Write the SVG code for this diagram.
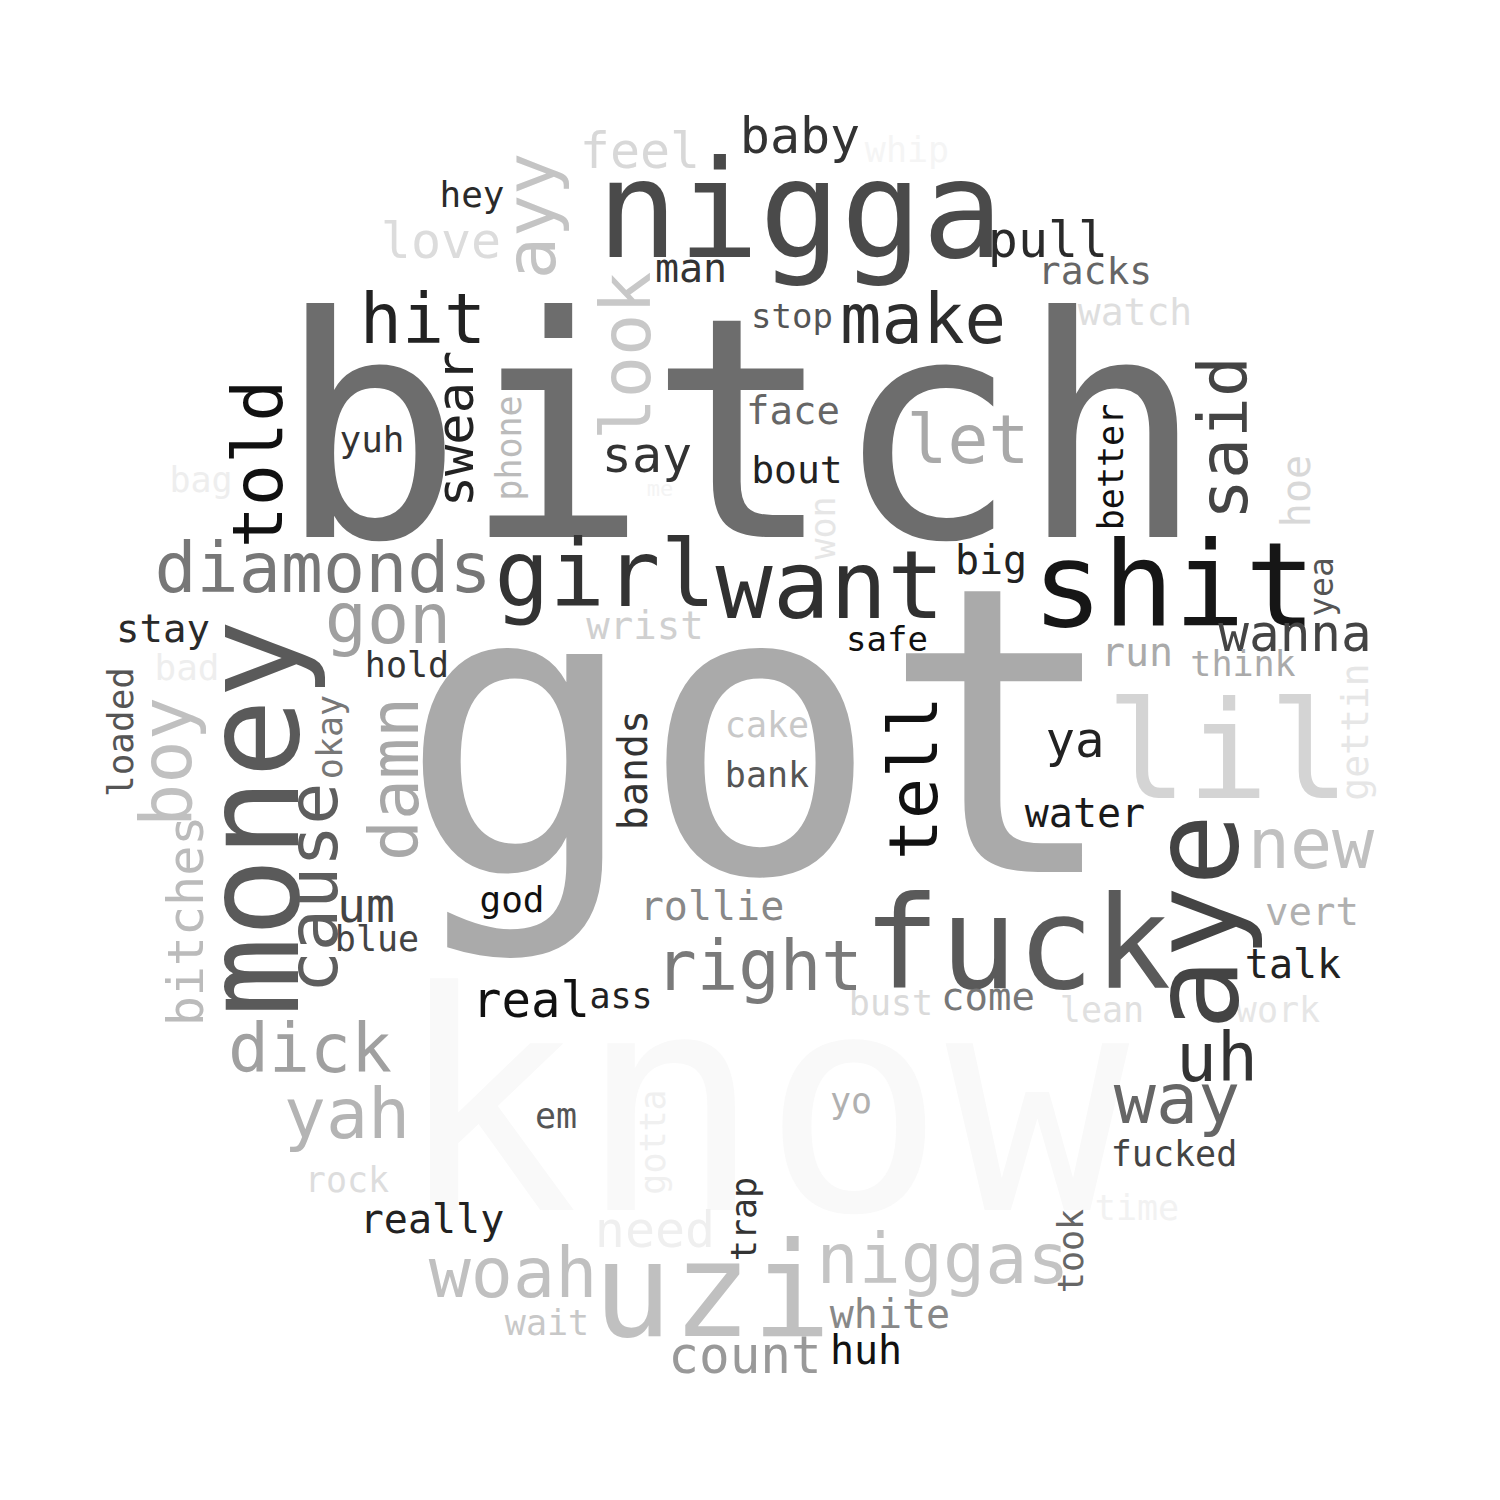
<svg xmlns="http://www.w3.org/2000/svg" width="1500" height="1500" viewBox="0 0 1500 1500">
<style>
text{font-family:"DejaVu Sans Mono","Liberation Mono",monospace;text-anchor:middle}
</style>
<rect width="1500" height="1500" fill="#ffffff"/>
<g id="words">
<text x="1228" y="798" font-size="135" fill="#d4d4d4">lil</text>
<text x="762" y="1210" font-size="305" fill="#f9f9f9">know</text>
<text x="741" y="537" font-size="308" fill="#6d6d6d">bitch</text>
<text x="760" y="872" font-size="400" fill="#aaaaaa">got</text>
<text x="800" y="257" font-size="135" fill="#4a4a4a">nigga</text>
<text x="1174" y="626" font-size="118" fill="#161616">shit</text>
<text x="1017" y="988" font-size="128" fill="#5a5a5a">fuck</text>
<text x="605" y="606" font-size="92" fill="#333333">girl</text>
<text x="830" y="618" font-size="95" fill="#303030">want</text>
<text x="423" y="343" font-size="70" fill="#222222">hit</text>
<text x="923" y="343" font-size="69" fill="#2d2d2d">make</text>
<text x="1048" y="257" font-size="50" fill="#2a2a2a">pull</text>
<text x="800" y="153" font-size="50" fill="#333333">baby</text>
<text x="640" y="168" font-size="50" fill="#d8d8d8">feel</text>
<text x="907" y="162" font-size="35" fill="#f5f5f5">whip</text>
<text x="472" y="207" font-size="36" fill="#2a2a2a">hey</text>
<text x="441" y="258" font-size="50" fill="#dcdcdc">love</text>
<text x="691" y="282" font-size="40" fill="#333333">man</text>
<text x="1095" y="284" font-size="38" fill="#666666">racks</text>
<text x="1135" y="325" font-size="38" fill="#dedede">watch</text>
<text x="792" y="328" font-size="34" fill="#555555">stop</text>
<text x="793" y="424" font-size="39" fill="#666666">face</text>
<text x="968" y="463" font-size="68" fill="#a9a9a9">let</text>
<text x="647" y="472" font-size="50" fill="#333333">say</text>
<text x="660" y="496" font-size="22" fill="#f4f4f4">me</text>
<text x="797" y="483" font-size="38" fill="#222222">bout</text>
<text x="372" y="452" font-size="36" fill="#333333">yuh</text>
<text x="201" y="492" font-size="35" fill="#eeeeee">bag</text>
<text x="323" y="592" font-size="70" fill="#777777">diamonds</text>
<text x="388" y="643" font-size="70" fill="#a0a0a0">gon</text>
<text x="163" y="642" font-size="39" fill="#2a2a2a">stay</text>
<text x="187" y="680" font-size="36" fill="#eeeeee">bad</text>
<text x="407" y="677" font-size="35" fill="#333333">hold</text>
<text x="645" y="639" font-size="39" fill="#d0d0d0">wrist</text>
<text x="991" y="574" font-size="40" fill="#222222">big</text>
<text x="887" y="651" font-size="34" fill="#111111">safe</text>
<text x="1295" y="651" font-size="51" fill="#444444">wanna</text>
<text x="1137" y="666" font-size="40" fill="#aaaaaa">run</text>
<text x="1243" y="676" font-size="35" fill="#aaaaaa">think</text>
<text x="767" y="737" font-size="35" fill="#c8c8c8">cake</text>
<text x="767" y="787" font-size="35" fill="#555555">bank</text>
<text x="1075" y="757" font-size="49" fill="#222222">ya</text>
<text x="1085" y="827" font-size="40" fill="#1a1a1a">water</text>
<text x="1311" y="868" font-size="70" fill="#c0c0c0">new</text>
<text x="1312" y="925" font-size="39" fill="#b0b0b0">vert</text>
<text x="1293" y="978" font-size="40" fill="#222222">talk</text>
<text x="1278" y="1022" font-size="35" fill="#e6e6e6">work</text>
<text x="1102" y="1022" font-size="35" fill="#e0e0e0">lean</text>
<text x="988" y="1010" font-size="39" fill="#777777">come</text>
<text x="891" y="1015" font-size="35" fill="#dadada">bust</text>
<text x="759" y="990" font-size="69" fill="#7a7a7a">right</text>
<text x="712" y="920" font-size="40" fill="#888888">rollie</text>
<text x="512" y="912" font-size="36" fill="#111111">god</text>
<text x="366" y="922" font-size="48" fill="#444444">um</text>
<text x="377" y="951" font-size="35" fill="#444444">blue</text>
<text x="531" y="1017" font-size="49" fill="#111111">real</text>
<text x="621" y="1008" font-size="35" fill="#222222">ass</text>
<text x="310" y="1072" font-size="68" fill="#a0a0a0">dick</text>
<text x="347" y="1138" font-size="70" fill="#b4b4b4">yah</text>
<text x="556" y="1128" font-size="35" fill="#555555">em</text>
<text x="347" y="1192" font-size="35" fill="#dddddd">rock</text>
<text x="432" y="1233" font-size="40" fill="#222222">really</text>
<text x="655" y="1247" font-size="50" fill="#efefef">need</text>
<text x="513" y="1297" font-size="70" fill="#c0c0c0">woah</text>
<text x="712" y="1336" font-size="132" fill="#c0c0c0">uzi</text>
<text x="547" y="1335" font-size="35" fill="#c8c8c8">wait</text>
<text x="745" y="1373" font-size="51" fill="#999999">count</text>
<text x="943" y="1283" font-size="70" fill="#c4c4c4">niggas</text>
<text x="890" y="1328" font-size="40" fill="#888888">white</text>
<text x="866" y="1364" font-size="40" fill="#111111">huh</text>
<text x="851" y="1113" font-size="35" fill="#b0b0b0">yo</text>
<text x="1177" y="1123" font-size="70" fill="#666666">way</text>
<text x="1217" y="1081" font-size="68" fill="#333333">uh</text>
<text x="1174" y="1166" font-size="35" fill="#444444">fucked</text>
<text x="1137" y="1220" font-size="35" fill="#f2f2f2">time</text>
<text transform="translate(298,818) rotate(-90)" font-size="132" fill="#5a5a5a">money</text>
<text transform="translate(337,888) rotate(-90)" font-size="70" fill="#5e5e5e">cause</text>
<text transform="translate(191,762) rotate(-90)" font-size="72" fill="#c0c0c0">boy</text>
<text transform="translate(203,921) rotate(-90)" font-size="50" fill="#bbbbbb">bitches</text>
<text transform="translate(133,732) rotate(-90)" font-size="36" fill="#555555">loaded</text>
<text transform="translate(342,737) rotate(-90)" font-size="35" fill="#777777">okay</text>
<text transform="translate(418,779) rotate(-90)" font-size="68" fill="#a8a8a8">damn</text>
<text transform="translate(282,464) rotate(-90)" font-size="70" fill="#111111">told</text>
<text transform="translate(473,429) rotate(-90)" font-size="52" fill="#222222">swear</text>
<text transform="translate(521,448) rotate(-90)" font-size="35" fill="#bbbbbb">phone</text>
<text transform="translate(555,216) rotate(-90)" font-size="70" fill="#c4c4c4">ayy</text>
<text transform="translate(650,356) rotate(-90)" font-size="70" fill="#c8c8c8">look</text>
<text transform="translate(937,778) rotate(-90)" font-size="68" fill="#111111">tell</text>
<text transform="translate(647,770) rotate(-90)" font-size="40" fill="#333333">bands</text>
<text transform="translate(1247,438) rotate(-90)" font-size="68" fill="#444444">said</text>
<text transform="translate(1123,467) rotate(-90)" font-size="35" fill="#111111">better</text>
<text transform="translate(1310,491) rotate(-90)" font-size="40" fill="#d8d8d8">hoe</text>
<text transform="translate(1333,587) rotate(-90)" font-size="33" fill="#555555">yea</text>
<text transform="translate(1368,732) rotate(-90)" font-size="38" fill="#e6e6e6">gettin</text>
<text transform="translate(835,528) rotate(-90)" font-size="35" fill="#e6e6e6">won</text>
<text transform="translate(756,1219) rotate(-90)" font-size="35" fill="#333333">trap</text>
<text transform="translate(665,1142) rotate(-90)" font-size="35" fill="#f0f0f0">gotta</text>
<text transform="translate(1083,1251) rotate(-90)" font-size="35" fill="#666666">took</text>
<text transform="translate(1237,922) rotate(-90)" font-size="120" fill="#444444">aye</text>
</g>
</svg>
